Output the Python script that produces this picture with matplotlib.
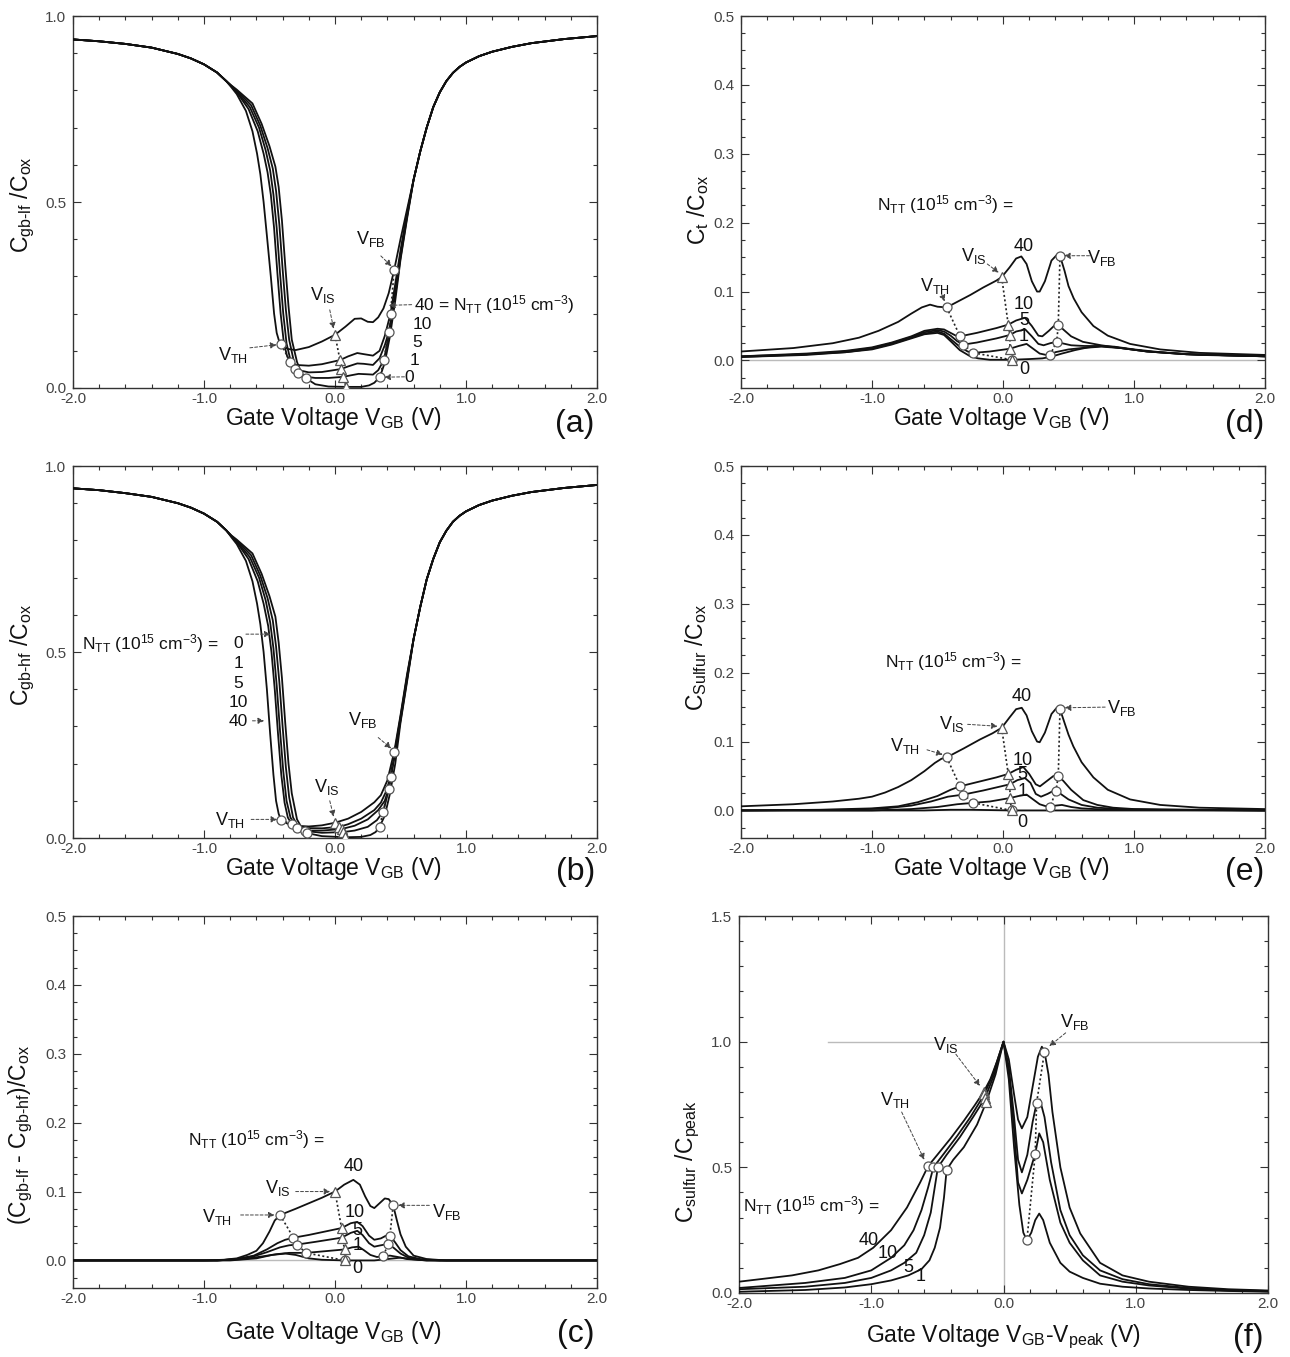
import matplotlib
matplotlib.use("Agg")
import matplotlib.pyplot as plt
from matplotlib.ticker import MultipleLocator, FormatStrFormatter

plt.rcParams['font.family'] = ['Liberation Sans', 'DejaVu Sans']
plt.rcParams['mathtext.fontset'] = 'custom'
plt.rcParams['mathtext.rm'] = 'Liberation Sans'
plt.rcParams['mathtext.it'] = 'Liberation Sans'
plt.rcParams['mathtext.bf'] = 'Liberation Sans:bold'
plt.rcParams['mathtext.default'] = 'regular'
plt.rcParams['axes.unicode_minus'] = False

# ------------------------------------------------------------------ data
# ---- panel (a): C_gb-lf / C_ox
a_left = [(-2.0, 0.937), (-1.8, 0.932), (-1.6, 0.925), (-1.4, 0.915), (-1.2, 0.898), (-1.1, 0.886),
          (-1.0, 0.87), (-0.9, 0.848), (-0.83, 0.825)]
a_right = [(0.6, 0.56), (0.65, 0.635), (0.7, 0.7), (0.75, 0.755), (0.8, 0.795), (0.85, 0.825),
           (0.9, 0.847), (0.95, 0.863), (1.0, 0.875), (1.1, 0.892), (1.2, 0.904), (1.35, 0.917),
           (1.5, 0.927), (1.75, 0.938), (2.0, 0.946)]
a_n40 = [(-0.79, 0.808), (-0.75, 0.79), (-0.68, 0.745), (-0.63, 0.69), (-0.595, 0.63), (-0.57, 0.575),
         (-0.545, 0.5), (-0.52, 0.41), (-0.49, 0.3), (-0.465, 0.2), (-0.445, 0.148), (-0.425, 0.124),
         (-0.41, 0.117), (-0.36, 0.105), (-0.3, 0.102), (-0.2, 0.11), (-0.1, 0.125), (0.0, 0.143),
         (0.08, 0.165), (0.15, 0.186), (0.2, 0.187), (0.25, 0.178), (0.29, 0.177), (0.33, 0.19),
         (0.37, 0.214), (0.41, 0.255), (0.452, 0.318), (0.5, 0.4), (0.55, 0.48)]
a_n10 = [(-0.79, 0.81), (-0.75, 0.795), (-0.66, 0.75), (-0.59, 0.69), (-0.545, 0.63), (-0.515, 0.58),
         (-0.49, 0.52), (-0.465, 0.43), (-0.44, 0.31), (-0.415, 0.2), (-0.39, 0.12), (-0.365, 0.085),
         (-0.343, 0.071), (-0.3, 0.062), (-0.2, 0.06), (-0.1, 0.064), (0.038, 0.075), (0.1, 0.085),
         (0.17, 0.094), (0.22, 0.091), (0.29, 0.087), (0.34, 0.1), (0.38, 0.14), (0.424, 0.2),
         (0.46, 0.28), (0.5, 0.37), (0.55, 0.47)]
a_n5 = [(-0.79, 0.811), (-0.75, 0.797), (-0.65, 0.755), (-0.58, 0.7), (-0.53, 0.64), (-0.495, 0.585),
        (-0.47, 0.52), (-0.445, 0.43), (-0.42, 0.31), (-0.395, 0.2), (-0.37, 0.12), (-0.34, 0.075),
        (-0.305, 0.05), (-0.2, 0.042), (-0.1, 0.043), (0.046, 0.051), (0.1, 0.058), (0.17, 0.066),
        (0.22, 0.065), (0.29, 0.062), (0.34, 0.08), (0.38, 0.115), (0.411, 0.151), (0.45, 0.235),
        (0.5, 0.36), (0.55, 0.465)]
a_n1 = [(-0.79, 0.812), (-0.75, 0.8), (-0.64, 0.76), (-0.57, 0.705), (-0.515, 0.645), (-0.475, 0.59),
        (-0.45, 0.53), (-0.425, 0.44), (-0.4, 0.32), (-0.375, 0.21), (-0.35, 0.13), (-0.31, 0.065),
        (-0.28, 0.041), (-0.24, 0.031), (-0.15, 0.027), (-0.05, 0.027), (0.063, 0.03), (0.12, 0.034),
        (0.18, 0.038), (0.24, 0.037), (0.29, 0.036), (0.33, 0.048), (0.373, 0.075), (0.41, 0.14),
        (0.45, 0.225), (0.5, 0.35), (0.55, 0.46)]
a_n0 = [(-0.79, 0.813), (-0.75, 0.802), (-0.63, 0.765), (-0.56, 0.71), (-0.5, 0.65), (-0.455, 0.595),
        (-0.43, 0.54), (-0.405, 0.45), (-0.38, 0.33), (-0.355, 0.22), (-0.33, 0.13), (-0.29, 0.07),
        (-0.26, 0.042), (-0.221, 0.026), (-0.15, 0.01), (-0.05, 0.004), (0.084, 0.003), (0.2, 0.003),
        (0.26, 0.007), (0.3, 0.014), (0.343, 0.03), (0.38, 0.068), (0.42, 0.14), (0.46, 0.235),
        (0.5, 0.345), (0.55, 0.455)]
a_vth = [(-0.41, 0.117), (-0.343, 0.071), (-0.305, 0.05), (-0.28, 0.041), (-0.221, 0.026)]
a_vis = [(0.0, 0.143), (0.038, 0.075), (0.046, 0.051), (0.063, 0.03), (0.084, 0.003)]
a_vfb = [(0.452, 0.318), (0.424, 0.2), (0.411, 0.151), (0.373, 0.075), (0.343, 0.03)]

# ---- panel (b): C_gb-hf / C_ox
b_left = [(-2.0, 0.94), (-1.8, 0.935), (-1.6, 0.927), (-1.4, 0.917), (-1.2, 0.9), (-1.1, 0.888),
          (-1.0, 0.872), (-0.9, 0.85), (-0.83, 0.827)]
b_right = [(0.6, 0.535), (0.65, 0.62), (0.7, 0.695), (0.75, 0.75), (0.8, 0.795), (0.85, 0.826),
           (0.9, 0.85), (0.95, 0.866), (1.0, 0.878), (1.1, 0.895), (1.2, 0.907), (1.35, 0.92),
           (1.5, 0.93), (1.75, 0.941), (2.0, 0.949)]
b_n40 = [(-0.79, 0.808), (-0.75, 0.79), (-0.68, 0.745), (-0.63, 0.69), (-0.595, 0.63), (-0.57, 0.575),
         (-0.545, 0.5), (-0.52, 0.4), (-0.495, 0.28), (-0.47, 0.17), (-0.45, 0.1), (-0.43, 0.065),
         (-0.411, 0.048), (-0.36, 0.038), (-0.3, 0.033), (-0.2, 0.031), (-0.1, 0.034), (0.0, 0.041),
         (0.1, 0.052), (0.2, 0.07), (0.3, 0.096), (0.35, 0.115), (0.4, 0.155), (0.452, 0.232),
         (0.5, 0.33), (0.55, 0.44)]
b_n10 = [(-0.79, 0.81), (-0.75, 0.795), (-0.66, 0.75), (-0.59, 0.69), (-0.545, 0.63), (-0.51, 0.57),
         (-0.485, 0.5), (-0.46, 0.4), (-0.435, 0.28), (-0.41, 0.17), (-0.385, 0.095), (-0.36, 0.055),
         (-0.33, 0.037), (-0.25, 0.027), (-0.1, 0.026), (0.033, 0.03), (0.1, 0.037), (0.2, 0.052),
         (0.3, 0.075), (0.35, 0.095), (0.39, 0.125), (0.424, 0.165), (0.46, 0.24), (0.5, 0.325),
         (0.55, 0.435)]
b_n5 = [(-0.79, 0.811), (-0.75, 0.797), (-0.65, 0.755), (-0.58, 0.7), (-0.53, 0.64), (-0.495, 0.58),
        (-0.47, 0.51), (-0.445, 0.41), (-0.42, 0.29), (-0.395, 0.18), (-0.37, 0.1), (-0.34, 0.055),
        (-0.287, 0.026), (-0.2, 0.02), (-0.1, 0.02), (0.05, 0.024), (0.15, 0.033), (0.25, 0.05),
        (0.33, 0.075), (0.38, 0.1), (0.409, 0.132), (0.45, 0.215), (0.5, 0.32), (0.55, 0.43)]
b_n1 = [(-0.79, 0.812), (-0.75, 0.8), (-0.64, 0.76), (-0.57, 0.705), (-0.515, 0.645), (-0.475, 0.585),
        (-0.45, 0.515), (-0.425, 0.42), (-0.4, 0.3), (-0.375, 0.19), (-0.35, 0.11), (-0.32, 0.055),
        (-0.28, 0.03), (-0.229, 0.019), (-0.1, 0.014), (0.063, 0.016), (0.15, 0.02), (0.25, 0.03),
        (0.32, 0.048), (0.368, 0.071), (0.41, 0.13), (0.45, 0.21), (0.5, 0.315), (0.55, 0.425)]
b_n0 = [(-0.79, 0.813), (-0.75, 0.802), (-0.63, 0.765), (-0.56, 0.71), (-0.5, 0.65), (-0.455, 0.595),
        (-0.43, 0.525), (-0.405, 0.43), (-0.38, 0.31), (-0.355, 0.2), (-0.33, 0.12), (-0.29, 0.05),
        (-0.25, 0.025), (-0.21, 0.013), (-0.1, 0.005), (0.075, 0.002), (0.2, 0.003), (0.27, 0.008),
        (0.31, 0.016), (0.34, 0.03), (0.38, 0.06), (0.42, 0.12), (0.46, 0.2), (0.5, 0.31), (0.55, 0.42)]
b_vth = [(-0.411, 0.048), (-0.33, 0.037), (-0.287, 0.026), (-0.229, 0.019), (-0.21, 0.013)]
b_vis = [(0.0, 0.041), (0.033, 0.03), (0.05, 0.024), (0.063, 0.016), (0.075, 0.002)]
b_vfb = [(0.452, 0.232), (0.424, 0.165), (0.409, 0.132), (0.368, 0.071), (0.34, 0.03)]

# ---- panel (c): (C_gb-lf - C_gb-hf) / C_ox
c_n40 = [(-2.0, 0.0), (-1.0, 0.0), (-0.85, 0.001), (-0.75, 0.003), (-0.67, 0.008), (-0.6, 0.014),
         (-0.55, 0.025), (-0.5, 0.042), (-0.46, 0.058), (-0.419, 0.066), (-0.3, 0.075), (-0.2, 0.083),
         (-0.1, 0.091), (0.0, 0.1), (0.07, 0.11), (0.14, 0.117), (0.19, 0.11), (0.23, 0.093),
         (0.27, 0.079), (0.3, 0.076), (0.34, 0.083), (0.38, 0.09), (0.41, 0.089), (0.444, 0.08),
         (0.47, 0.06), (0.5, 0.038), (0.54, 0.02), (0.6, 0.007), (0.7, 0.002), (0.85, 0.0), (2.0, 0.0)]
c_n10 = [(-2.0, 0.0), (-0.9, 0.0), (-0.75, 0.002), (-0.62, 0.007), (-0.52, 0.016), (-0.44, 0.025),
         (-0.38, 0.03), (-0.317, 0.033), (-0.2, 0.037), (-0.1, 0.041), (0.05, 0.047), (0.12, 0.054),
         (0.17, 0.056), (0.21, 0.05), (0.26, 0.036), (0.3, 0.03), (0.35, 0.032), (0.39, 0.036),
         (0.419, 0.036), (0.46, 0.026), (0.5, 0.015), (0.56, 0.006), (0.65, 0.002), (0.8, 0.0), (2.0, 0.0)]
c_n5 = [(-2.0, 0.0), (-0.9, 0.0), (-0.75, 0.002), (-0.62, 0.006), (-0.52, 0.012), (-0.42, 0.019),
        (-0.35, 0.022), (-0.292, 0.023), (-0.15, 0.027), (0.05, 0.033), (0.12, 0.04), (0.17, 0.043),
        (0.21, 0.037), (0.26, 0.025), (0.3, 0.02), (0.35, 0.022), (0.406, 0.024), (0.45, 0.018),
        (0.5, 0.01), (0.56, 0.004), (0.65, 0.001), (0.8, 0.0), (2.0, 0.0)]
c_n1 = [(-2.0, 0.0), (-0.9, 0.0), (-0.7, 0.002), (-0.55, 0.006), (-0.45, 0.009), (-0.35, 0.011),
        (-0.221, 0.011), (-0.1, 0.013), (0.076, 0.016), (0.13, 0.019), (0.18, 0.02), (0.22, 0.015),
        (0.27, 0.008), (0.32, 0.005), (0.368, 0.006), (0.42, 0.007), (0.48, 0.005), (0.55, 0.002),
        (0.7, 0.0), (2.0, 0.0)]
c_n0 = [(-2.0, 0.0), (-0.8, 0.0), (-0.6, 0.003), (-0.48, 0.008), (-0.38, 0.01), (-0.3, 0.008),
        (-0.2, 0.003), (-0.1, 0.001), (0.076, 0.0), (0.3, 0.0), (0.4, 0.002), (0.5, 0.004),
        (0.58, 0.002), (0.7, 0.0), (2.0, 0.0)]
c_vth = [(-0.419, 0.066), (-0.317, 0.033), (-0.292, 0.023), (-0.221, 0.011), (0.076, 0.0)]
c_vis = [(0.0, 0.1), (0.05, 0.047), (0.05, 0.033), (0.076, 0.016), (0.076, 0.0)]
c_vfb = [(0.444, 0.08), (0.419, 0.036), (0.406, 0.024), (0.368, 0.006)]

# ---- panel (d): C_t / C_ox
d_n40 = [(-2.0, 0.013), (-1.6, 0.018), (-1.3, 0.025), (-1.1, 0.033), (-0.95, 0.043), (-0.8, 0.056),
         (-0.7, 0.068), (-0.62, 0.077), (-0.557, 0.081), (-0.5, 0.078), (-0.43, 0.077), (-0.35, 0.085),
         (-0.25, 0.095), (-0.15, 0.106), (-0.05, 0.116), (-0.01, 0.121), (0.05, 0.135), (0.1, 0.148),
         (0.14, 0.151), (0.18, 0.14), (0.22, 0.115), (0.26, 0.1), (0.28, 0.1), (0.32, 0.115),
         (0.37, 0.145), (0.41, 0.153), (0.435, 0.152), (0.47, 0.13), (0.5, 0.108), (0.54, 0.09),
         (0.6, 0.07), (0.69, 0.05), (0.8, 0.036), (0.97, 0.024), (1.2, 0.016), (1.5, 0.011), (2.0, 0.008)]
d_n10 = [(-2.0, 0.006), (-1.5, 0.01), (-1.2, 0.014), (-1.0, 0.019), (-0.85, 0.026), (-0.7, 0.035),
         (-0.6, 0.043), (-0.5, 0.046), (-0.45, 0.045), (-0.4, 0.04), (-0.36, 0.036), (-0.328, 0.035),
         (-0.2, 0.04), (-0.05, 0.047), (0.04, 0.052), (0.1, 0.058), (0.168, 0.062), (0.22, 0.05),
         (0.27, 0.036), (0.3, 0.035), (0.35, 0.043), (0.4, 0.052), (0.422, 0.052), (0.46, 0.045),
         (0.52, 0.035), (0.61, 0.027), (0.75, 0.022), (0.9, 0.018), (1.1, 0.013), (1.4, 0.009), (2.0, 0.006)]
d_n5 = [(-2.0, 0.006), (-1.5, 0.009), (-1.2, 0.013), (-1.0, 0.018), (-0.85, 0.025), (-0.7, 0.034),
        (-0.6, 0.041), (-0.5, 0.044), (-0.45, 0.042), (-0.4, 0.036), (-0.35, 0.028), (-0.303, 0.023),
        (-0.2, 0.026), (-0.05, 0.032), (0.053, 0.037), (0.1, 0.042), (0.17, 0.045), (0.22, 0.035),
        (0.27, 0.024), (0.31, 0.022), (0.36, 0.025), (0.41, 0.027), (0.45, 0.025), (0.52, 0.022),
        (0.62, 0.021), (0.75, 0.021), (0.9, 0.018), (1.1, 0.013), (1.4, 0.009), (2.0, 0.006)]
d_n1 = [(-2.0, 0.005), (-1.5, 0.009), (-1.2, 0.012), (-1.0, 0.017), (-0.85, 0.024), (-0.7, 0.033),
        (-0.6, 0.039), (-0.5, 0.042), (-0.45, 0.039), (-0.4, 0.031), (-0.33, 0.02), (-0.27, 0.013),
        (-0.227, 0.011), (-0.1, 0.013), (0.053, 0.017), (0.12, 0.021), (0.18, 0.024), (0.23, 0.017),
        (0.28, 0.01), (0.33, 0.008), (0.359, 0.008), (0.4, 0.012), (0.45, 0.014), (0.5, 0.016),
        (0.6, 0.018), (0.75, 0.02), (0.9, 0.018), (1.1, 0.013), (1.4, 0.009), (2.0, 0.006)]
d_n0 = [(-2.0, 0.005), (-1.5, 0.008), (-1.2, 0.012), (-1.0, 0.016), (-0.85, 0.023), (-0.7, 0.032),
        (-0.6, 0.038), (-0.5, 0.04), (-0.45, 0.037), (-0.4, 0.028), (-0.33, 0.015), (-0.25, 0.006),
        (-0.19, 0.003), (-0.1, 0.001), (0.066, 0.001), (0.2, 0.002), (0.3, 0.003), (0.36, 0.005),
        (0.45, 0.01), (0.55, 0.015), (0.65, 0.019), (0.75, 0.021), (0.85, 0.02), (1.0, 0.016),
        (1.2, 0.012), (1.5, 0.008), (2.0, 0.006)]
d_vth = [(-0.43, 0.077), (-0.328, 0.035), (-0.303, 0.023), (-0.227, 0.011), (0.066, 0.001)]
d_vis = [(-0.01, 0.121), (0.04, 0.052), (0.053, 0.037), (0.053, 0.017), (0.066, 0.001)]
d_vfb = [(0.435, 0.152), (0.422, 0.052), (0.41, 0.027), (0.359, 0.008)]

# ---- panel (e): C_Sulfur / C_ox
e_n40 = [(-2.0, 0.006), (-1.6, 0.009), (-1.3, 0.013), (-1.1, 0.017), (-1.0, 0.02), (-0.9, 0.026),
         (-0.8, 0.034), (-0.7, 0.044), (-0.6, 0.057), (-0.52, 0.069), (-0.47, 0.075), (-0.43, 0.077),
         (-0.3, 0.09), (-0.176, 0.103), (-0.08, 0.112), (-0.01, 0.12), (0.05, 0.135), (0.1, 0.147),
         (0.143, 0.149), (0.18, 0.138), (0.22, 0.115), (0.26, 0.1), (0.28, 0.099), (0.32, 0.113),
         (0.37, 0.14), (0.41, 0.149), (0.435, 0.147), (0.47, 0.127), (0.5, 0.11), (0.537, 0.093),
         (0.6, 0.07), (0.69, 0.048), (0.8, 0.03), (0.97, 0.016), (1.2, 0.008), (1.5, 0.004), (2.0, 0.002)]
e_n10 = [(-2.0, 0.0), (-1.4, 0.001), (-1.0, 0.003), (-0.8, 0.006), (-0.65, 0.012), (-0.5, 0.021),
         (-0.4, 0.03), (-0.328, 0.035), (-0.2, 0.041), (-0.05, 0.048), (0.04, 0.053), (0.1, 0.059),
         (0.155, 0.063), (0.2, 0.053), (0.25, 0.038), (0.282, 0.035), (0.33, 0.042), (0.385, 0.05),
         (0.422, 0.05), (0.46, 0.043), (0.52, 0.03), (0.613, 0.015), (0.72, 0.008), (0.84, 0.004),
         (1.0, 0.002), (1.5, 0.001), (2.0, 0.0)]
e_n5 = [(-2.0, 0.0), (-1.2, 0.001), (-0.9, 0.003), (-0.7, 0.007), (-0.55, 0.013), (-0.42, 0.02),
        (-0.303, 0.023), (-0.15, 0.029), (0.053, 0.038), (0.11, 0.044), (0.168, 0.047), (0.21, 0.04),
        (0.25, 0.024), (0.29, 0.02), (0.34, 0.024), (0.38, 0.028), (0.404, 0.028), (0.44, 0.024),
        (0.5, 0.016), (0.6, 0.008), (0.72, 0.004), (0.9, 0.002), (1.2, 0.001), (2.0, 0.0)]
e_n1 = [(-2.0, 0.0), (-1.0, 0.0), (-0.7, 0.002), (-0.5, 0.005), (-0.35, 0.009), (-0.227, 0.011),
        (-0.1, 0.013), (0.053, 0.018), (0.12, 0.021), (0.18, 0.023), (0.23, 0.016), (0.28, 0.009),
        (0.33, 0.006), (0.359, 0.005), (0.4, 0.007), (0.45, 0.008), (0.52, 0.005), (0.6, 0.003),
        (0.8, 0.001), (2.0, 0.0)]
e_n0 = [(-2.0, 0.0), (-0.6, 0.0), (-0.4, 0.001), (-0.25, 0.001), (0.066, 0.0), (0.4, 0.0), (2.0, 0.0)]
e_vth = [(-0.43, 0.077), (-0.328, 0.035), (-0.303, 0.023), (-0.227, 0.011), (0.066, 0.0)]
e_vis = [(-0.01, 0.12), (0.04, 0.053), (0.053, 0.038), (0.053, 0.018), (0.066, 0.0)]
e_vfb = [(0.435, 0.147), (0.422, 0.05), (0.404, 0.028), (0.359, 0.005)]

# ---- panel (f): C_sulfur / C_peak vs V_GB - V_peak
f_n40 = [(-2.0, 0.045), (-1.6, 0.07), (-1.4, 0.09), (-1.237, 0.115), (-1.1, 0.14), (-0.985, 0.18),
         (-0.85, 0.25), (-0.73, 0.34), (-0.63, 0.44), (-0.57, 0.505), (-0.5, 0.55), (-0.4, 0.615),
         (-0.3, 0.685), (-0.22, 0.745), (-0.15, 0.8), (-0.1, 0.85), (-0.05, 0.92), (0.0, 1.0),
         (0.04, 0.93), (0.08, 0.79), (0.11, 0.69), (0.139, 0.655), (0.18, 0.7), (0.22, 0.82),
         (0.26, 0.94), (0.29, 0.98), (0.31, 0.96), (0.34, 0.87), (0.37, 0.72), (0.43, 0.5),
         (0.5, 0.34), (0.58, 0.237), (0.73, 0.12), (0.9, 0.07), (1.1, 0.045), (1.4, 0.025),
         (1.7, 0.015), (2.0, 0.01)]
f_n10 = [(-2.0, 0.02), (-1.5, 0.04), (-1.2, 0.06), (-1.0, 0.09), (-0.85, 0.14), (-0.75, 0.19),
         (-0.68, 0.25), (-0.62, 0.33), (-0.57, 0.42), (-0.53, 0.5), (-0.45, 0.555), (-0.35, 0.625),
         (-0.25, 0.7), (-0.145, 0.79), (-0.08, 0.87), (0.0, 1.0), (0.04, 0.9), (0.08, 0.7),
         (0.11, 0.53), (0.139, 0.48), (0.18, 0.55), (0.22, 0.68), (0.25, 0.755), (0.275, 0.77),
         (0.31, 0.7), (0.36, 0.52), (0.43, 0.33), (0.5, 0.23), (0.6, 0.15), (0.73, 0.09),
         (0.9, 0.055), (1.1, 0.035), (1.4, 0.02), (1.7, 0.012), (2.0, 0.008)]
f_n5 = [(-2.0, 0.015), (-1.5, 0.025), (-1.2, 0.04), (-1.0, 0.06), (-0.85, 0.09), (-0.75, 0.12),
        (-0.66, 0.16), (-0.6, 0.23), (-0.55, 0.32), (-0.52, 0.42), (-0.496, 0.5), (-0.43, 0.55),
        (-0.33, 0.62), (-0.23, 0.7), (-0.14, 0.775), (-0.07, 0.87), (0.0, 1.0), (0.04, 0.88),
        (0.08, 0.65), (0.11, 0.44), (0.139, 0.396), (0.18, 0.45), (0.24, 0.555), (0.27, 0.635),
        (0.3, 0.6), (0.35, 0.45), (0.43, 0.28), (0.5, 0.2), (0.6, 0.13), (0.73, 0.07), (0.9, 0.045),
        (1.1, 0.03), (1.4, 0.017), (1.7, 0.01), (2.0, 0.007)]
f_n1 = [(-2.0, 0.005), (-1.5, 0.012), (-1.2, 0.022), (-1.0, 0.035), (-0.85, 0.05), (-0.72, 0.07),
        (-0.62, 0.095), (-0.56, 0.13), (-0.52, 0.18), (-0.48, 0.26), (-0.45, 0.38), (-0.43, 0.49),
        (-0.38, 0.53), (-0.3, 0.58), (-0.2, 0.67), (-0.13, 0.76), (-0.06, 0.87), (0.0, 1.0),
        (0.04, 0.85), (0.08, 0.58), (0.12, 0.35), (0.15, 0.24), (0.177, 0.21), (0.21, 0.24),
        (0.24, 0.29), (0.27, 0.316), (0.3, 0.29), (0.35, 0.2), (0.43, 0.12), (0.5, 0.085),
        (0.6, 0.06), (0.73, 0.037), (0.9, 0.025), (1.1, 0.018), (1.4, 0.012), (1.7, 0.008), (2.0, 0.005)]
f_vth = [(-0.57, 0.505), (-0.53, 0.5), (-0.496, 0.5), (-0.43, 0.49)]
f_vis = [(-0.15, 0.8), (-0.145, 0.79), (-0.14, 0.775), (-0.13, 0.76)]
f_vfb = [(0.31, 0.96), (0.25, 0.755), (0.24, 0.555), (0.177, 0.21)]

X_LABEL = 'Gate Voltage V$_{GB}$ (V)'

# ------------------------------------------------------------------ helpers
W, H = 1290, 1357
fig = plt.figure(figsize=(W / 100, H / 100), dpi=100)


def rect(l, r, t, b):
    return [l / W, 1 - b / H, (r - l) / W, (b - t) / H]


def setup(ax, ylim, ymaj, ymin):
    ax.set_xlim(-2.0, 2.0)
    ax.set_ylim(*ylim)
    ax.xaxis.set_major_locator(MultipleLocator(1.0))
    ax.xaxis.set_minor_locator(MultipleLocator(0.2))
    ax.yaxis.set_major_locator(MultipleLocator(ymaj))
    ax.yaxis.set_minor_locator(MultipleLocator(ymin))
    ax.xaxis.set_major_formatter(FormatStrFormatter('%.1f'))
    ax.yaxis.set_major_formatter(FormatStrFormatter('%.1f'))
    ax.tick_params(which='both', direction='in', top=True, right=True,
                   labelsize=11, labelcolor='#444', color='#333', width=0.8)
    ax.tick_params(which='major', length=6)
    ax.tick_params(axis='x', which='major', pad=3)
    ax.tick_params(axis='y', which='major', pad=5)
    ax.tick_params(which='minor', length=3)
    for s in ax.spines.values():
        s.set_linewidth(1.0)
        s.set_color('#333')


def xs(pts):
    return [p[0] for p in pts]


def ys(pts):
    return [p[1] for p in pts]


def curves(ax, lst):
    for pts in lst:
        ax.plot(xs(pts), ys(pts), color='#111', lw=1.3, zorder=3,
                solid_joinstyle='round', solid_capstyle='round')


def marks(ax, pts, marker, line=True):
    if line:
        ax.plot(xs(pts), ys(pts), ls=(0, (1.2, 1.5)), color='#222', lw=1.2, zorder=4)
    ax.plot(xs(pts), ys(pts), ls='none', marker=marker, ms=6.5 if marker == 'o' else 7,
            mfc='white', mec='#555', mew=0.9, zorder=5)


def arrow(ax, start, tip):
    ax.annotate('', xy=tip, xytext=start,
                arrowprops=dict(arrowstyle='-|>', color='#444', lw=0.7, ls=(0, (3, 2)),
                                mutation_scale=9, shrinkA=0, shrinkB=2), zorder=6)


def txt(ax, x, y, s, size=13, ha='center'):
    ax.text(x, y, s, fontsize=size, ha=ha, va='center', color='#111', zorder=7)


VTH = '$V_{TH}$'
VIS = '$V_{IS}$'
VFB = '$V_{FB}$'
NTT = '$N_{TT}$ (10$^{15}$ cm$^{-3}$)'


def flabel(x, y, s, rot=0, size=16.5):
    fig.text(x / W, 1 - y / H, s, fontsize=size, ha='center', va='center', rotation=rot, color='#111')


# ------------------------------------------------------------------ panel (a)
ax = fig.add_axes(rect(73, 597, 16, 388))
setup(ax, (0.0, 1.0), 0.5, 0.1)
curves(ax, [a_left + m + a_right for m in (a_n40, a_n10, a_n5, a_n1, a_n0)])
marks(ax, a_vth, 'o')
marks(ax, a_vis, '^')
marks(ax, a_vfb, 'o')
txt(ax, 0.27, 0.40, VFB); arrow(ax, (0.35, 0.355), (0.447, 0.322))
txt(ax, -0.09, 0.25, VIS); arrow(ax, (-0.04, 0.21), (-0.006, 0.152))
txt(ax, -0.78, 0.088, VTH); arrow(ax, (-0.65, 0.108), (-0.425, 0.117))
txt(ax, 0.6, 0.224, '40 = ' + NTT, size=12.5, ha='left'); arrow(ax, (0.585, 0.224), (0.39, 0.222))
txt(ax, 0.665, 0.17, '10', 12.5)
txt(ax, 0.628, 0.121, '5', 12.5)
txt(ax, 0.61, 0.074, '1', 12.5)
txt(ax, 0.565, 0.029, '0', 12.5); arrow(ax, (0.53, 0.03), (0.355, 0.029))

# ------------------------------------------------------------------ panel (b)
ax = fig.add_axes(rect(73, 597, 466, 838))
setup(ax, (0.0, 1.0), 0.5, 0.1)
curves(ax, [b_left + m + b_right for m in (b_n40, b_n10, b_n5, b_n1, b_n0)])
marks(ax, b_vth, 'o')
marks(ax, b_vis, '^')
marks(ax, b_vfb, 'o')
txt(ax, -1.93, 0.524, NTT + ' =', size=12.5, ha='left')
for lab, yv in zip(['0', '1', '5', '10', '40'], [0.524, 0.47, 0.416, 0.363, 0.313]):
    txt(ax, -0.74, yv, lab, 12.5)
arrow(ax, (-0.68, 0.548), (-0.47, 0.548))
arrow(ax, (-0.63, 0.315), (-0.52, 0.315))
txt(ax, 0.216, 0.317, VFB); arrow(ax, (0.33, 0.27), (0.445, 0.236))
txt(ax, -0.063, 0.138, VIS); arrow(ax, (-0.04, 0.1), (-0.005, 0.05))
txt(ax, -0.8, 0.048, VTH); arrow(ax, (-0.64, 0.05), (-0.42, 0.05))

# ------------------------------------------------------------------ panel (c)
ax = fig.add_axes(rect(73, 597, 916, 1288))
setup(ax, (-0.04, 0.5), 0.1, 0.025)
ax.axhline(0.0, color='#bbb', lw=1.0, zorder=1)
curves(ax, [c_n40, c_n10, c_n5, c_n1, c_n0])
marks(ax, c_vth, 'o')
marks(ax, c_vis, '^')
marks(ax, c_vfb, 'o')
txt(ax, -1.12, 0.175, NTT + ' =', size=12.5, ha='left')
txt(ax, 0.14, 0.136, '40', 13)
txt(ax, 0.154, 0.069, '10', 13)
txt(ax, 0.17, 0.043, '5', 13)
txt(ax, 0.17, 0.021, '1', 13)
txt(ax, 0.17, -0.012, '0', 13)
txt(ax, -0.44, 0.105, VIS); arrow(ax, (-0.3, 0.1), (-0.015, 0.1))
txt(ax, -0.9, 0.063, VTH); arrow(ax, (-0.72, 0.066), (-0.44, 0.066))
txt(ax, 0.85, 0.071, VFB); arrow(ax, (0.72, 0.08), (0.46, 0.08))

# ------------------------------------------------------------------ panel (d)
ax = fig.add_axes(rect(741, 1265, 16, 388))
setup(ax, (-0.04, 0.5), 0.1, 0.025)
ax.axhline(0.0, color='#bbb', lw=1.0, zorder=1)
curves(ax, [d_n40, d_n10, d_n5, d_n1, d_n0])
marks(ax, d_vth, 'o')
marks(ax, d_vis, '^')
marks(ax, d_vfb, 'o')
txt(ax, -0.96, 0.226, NTT + ' =', size=12.5, ha='left')
txt(ax, 0.157, 0.166, '40', 13)
txt(ax, 0.157, 0.081, '10', 13)
txt(ax, 0.16, 0.058, '5', 13)
txt(ax, 0.16, 0.035, '1', 13)
txt(ax, 0.16, -0.013, '0', 13)
txt(ax, -0.22, 0.151, VIS); arrow(ax, (-0.12, 0.14), (-0.015, 0.125))
txt(ax, -0.52, 0.108, VTH); arrow(ax, (-0.47, 0.097), (-0.437, 0.082))
txt(ax, 0.754, 0.149, VFB); arrow(ax, (0.66, 0.152), (0.445, 0.152))

# ------------------------------------------------------------------ panel (e)
ax = fig.add_axes(rect(741, 1265, 466, 838))
setup(ax, (-0.04, 0.5), 0.1, 0.025)
ax.axhline(0.0, color='#bbb', lw=1.0, zorder=1)
curves(ax, [e_n40, e_n10, e_n5, e_n1, e_n0])
marks(ax, e_vth, 'o')
marks(ax, e_vis, '^')
marks(ax, e_vfb, 'o')
txt(ax, -0.9, 0.216, NTT + ' =', size=12.5, ha='left')
txt(ax, 0.141, 0.166, '40', 13)
txt(ax, 0.15, 0.073, '10', 13)
txt(ax, 0.15, 0.052, '5', 13)
txt(ax, 0.15, 0.028, '1', 13)
txt(ax, 0.15, -0.018, '0', 13)
txt(ax, -0.39, 0.125, VIS); arrow(ax, (-0.27, 0.125), (-0.02, 0.122))
txt(ax, -0.75, 0.093, VTH); arrow(ax, (-0.58, 0.088), (-0.44, 0.08))
txt(ax, 0.91, 0.149, VFB); arrow(ax, (0.78, 0.15), (0.45, 0.149))

# ------------------------------------------------------------------ panel (f)
ax = fig.add_axes(rect(739, 1268, 916, 1293))
setup(ax, (0.0, 1.5), 0.5, 0.1)
ax.plot([-1.33, 2.0], [1.0, 1.0], color='#bbb', lw=1.0, zorder=1)
ax.axvline(0.0, color='#bbb', lw=1.0, zorder=1)
curves(ax, [f_n40, f_n10, f_n5, f_n1])
marks(ax, f_vth, 'o', line=False)
marks(ax, f_vis, '^', line=False)
marks(ax, f_vfb, 'o')
txt(ax, -1.97, 0.348, NTT + ' =', size=12.5, ha='left')
txt(ax, -1.02, 0.209, '40', 13)
txt(ax, -0.875, 0.159, '10', 13)
txt(ax, -0.72, 0.103, '5', 13)
txt(ax, -0.63, 0.066, '1', 13)
txt(ax, 0.54, 1.078, VFB); arrow(ax, (0.47, 1.035), (0.33, 0.975))
txt(ax, -0.44, 0.986, VIS); arrow(ax, (-0.36, 0.95), (-0.165, 0.815))
txt(ax, -0.82, 0.767, VTH); arrow(ax, (-0.77, 0.72), (-0.59, 0.52))

# ------------------------------------------------------------------ labels
flabel(333, 418, X_LABEL)
flabel(333, 868, X_LABEL)
flabel(333, 1333, X_LABEL)
flabel(1001, 418, X_LABEL)
flabel(1001, 868, X_LABEL)
flabel(1003, 1337, 'Gate Voltage V$_{GB}$-V$_{peak}$ (V)')

flabel(23, 205, 'C$_{gb\u2010lf}$ /C$_{ox}$', rot=90)
flabel(23, 655, 'C$_{gb\u2010hf}$ /C$_{ox}$', rot=90)
flabel(21, 1135, '(C$_{gb\u2010lf}$ - C$_{gb\u2010hf}$)/C$_{ox}$', rot=90)
flabel(698, 210, 'C$_{t}$ /C$_{ox}$', rot=90)
flabel(696, 657, 'C$_{Sulfur}$ /C$_{ox}$', rot=90)
flabel(688, 1162, 'C$_{sulfur}$ /C$_{peak}$', rot=90)

flabel(575, 424, '(a)', size=23)
flabel(1245, 424, '(d)', size=23)
flabel(576, 872, '(b)', size=23)
flabel(1245, 872, '(e)', size=23)
flabel(576, 1334, '(c)', size=23)
flabel(1248, 1338, '(f)', size=23)

fig.savefig('out.png', dpi=100, facecolor='white')
